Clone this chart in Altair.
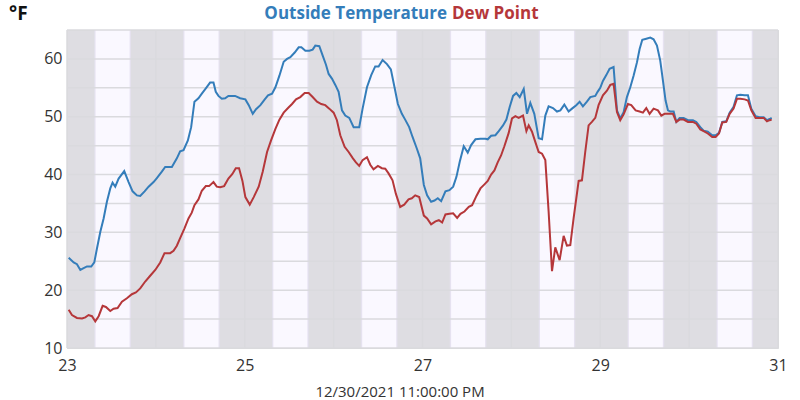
import altair as alt
import pandas as pd

# ---------------- data ----------------
title_temp = "Outside Temperature"
title_dew = "Dew Point"
unit_label = "°F"
footer_label = "12/30/2021 11:00:00 PM"

temp_day = [23.019, 23.075, 23.112, 23.150, 23.187, 23.225, 23.273, 23.307, 23.337, 23.375,
            23.412, 23.449, 23.487, 23.513, 23.543, 23.581, 23.644, 23.693, 23.738, 23.787,
            23.824, 23.873, 23.918, 23.974, 24.011, 24.067, 24.105, 24.180, 24.236, 24.273,
            24.311, 24.360, 24.397, 24.434, 24.479, 24.517, 24.562, 24.610, 24.648, 24.674,
            24.704, 24.742, 24.779, 24.816, 24.891, 24.948,
            25.007, 25.045, 25.090, 25.127, 25.176, 25.225, 25.262, 25.307, 25.345, 25.390,
            25.438, 25.476, 25.513, 25.562, 25.607, 25.637, 25.682, 25.727, 25.764, 25.794,
            25.839, 25.876, 25.914, 25.944, 25.981, 26.019, 26.056, 26.094, 26.131, 26.176,
            26.225, 26.288, 26.326, 26.375, 26.423, 26.468, 26.506, 26.551, 26.600, 26.644,
            26.685, 26.723, 26.768, 26.805, 26.850, 26.888, 26.936, 26.974,
            27.015, 27.052, 27.097, 27.135, 27.172, 27.210, 27.258, 27.303, 27.345, 27.382,
            27.419, 27.464, 27.509, 27.547, 27.596, 27.652, 27.708, 27.734, 27.772, 27.820,
            27.858, 27.906, 27.944, 27.981, 28.019, 28.056, 28.094, 28.139, 28.176, 28.213,
            28.258, 28.307, 28.345, 28.382, 28.419, 28.468, 28.513, 28.551, 28.596, 28.644,
            28.682, 28.730, 28.768, 28.805, 28.850, 28.888, 28.944, 28.970,
            29.000, 29.030, 29.068, 29.105, 29.150, 29.188, 29.225, 29.263, 29.300, 29.338,
            29.375, 29.413, 29.443, 29.473, 29.518, 29.563, 29.600, 29.638, 29.675, 29.705,
            29.735, 29.762, 29.788, 29.826, 29.856, 29.893, 29.938, 29.987, 30.043, 30.081,
            30.126, 30.163, 30.210, 30.260, 30.298, 30.336, 30.373, 30.418, 30.456, 30.500,
            30.538, 30.576, 30.625, 30.662, 30.700, 30.748, 30.794, 30.839, 30.876, 30.906,
            30.929]
temp_val = [25.6, 24.8, 24.5, 23.5, 23.8, 24.1, 24.1, 24.8, 27.2, 30.1,
            32.4, 35.3, 37.6, 38.6, 37.9, 39.3, 40.6, 38.7, 37.1, 36.4,
            36.3, 37.1, 37.9, 38.7, 39.4, 40.5, 41.3, 41.3, 42.8, 44.0,
            44.2, 45.9, 48.2, 52.6, 53.2, 54.0, 54.9, 55.9, 55.9, 54.3,
            53.6, 53.1, 53.2, 53.6, 53.6, 53.2,
            53.0, 52.0, 50.5, 51.3, 52.0, 53.0, 53.7, 54.0, 55.1, 57.1,
            59.5, 60.0, 60.3, 61.1, 62.0, 62.0, 61.4, 61.4, 61.6, 62.3,
            62.2, 60.6, 59.0, 57.4, 56.6, 55.5, 54.3, 51.1, 50.2, 49.8,
            48.2, 48.2, 51.4, 55.1, 57.2, 58.7, 58.7, 59.8, 59.1, 58.2,
            55.1, 52.2, 50.5, 49.5, 48.2, 46.5, 44.5, 42.8,
            38.2, 36.4, 35.3, 35.5, 35.9, 35.4, 37.1, 37.3, 37.9, 39.6,
            42.2, 44.9, 43.8, 45.1, 46.1, 46.2, 46.2, 46.1, 46.7, 46.8,
            47.5, 48.5, 49.5, 51.7, 53.6, 54.1, 53.4, 54.8, 50.5, 52.4,
            50.5, 46.3, 46.1, 50.2, 51.8, 51.5, 50.9, 51.1, 52.1, 50.9,
            51.4, 52.0, 52.6, 51.8, 52.6, 53.4, 53.6, 54.3,
            55.0, 56.2, 57.2, 58.3, 58.6, 51.1, 49.7, 50.8, 53.4, 55.1,
            57.1, 59.4, 61.7, 63.3, 63.5, 63.7, 63.4, 62.3, 59.7, 56.3,
            52.8, 51.1, 50.9, 50.9, 49.1, 49.8, 49.8, 49.4, 49.4, 49.1,
            48.2, 47.6, 47.4, 46.8, 46.8, 47.2, 49.1, 49.2, 50.7, 51.7,
            53.7, 53.8, 53.7, 53.7, 51.4, 50.1, 49.9, 49.9, 49.4, 49.6,
            49.8]

dew_day = [23.019, 23.056, 23.112, 23.169, 23.206, 23.243, 23.281, 23.318, 23.356, 23.401,
           23.438, 23.487, 23.524, 23.569, 23.618, 23.674, 23.730, 23.775, 23.824, 23.880,
           23.936, 23.993, 24.049, 24.097, 24.161, 24.199, 24.236, 24.273, 24.322, 24.367,
           24.404, 24.434, 24.479, 24.517, 24.562, 24.599, 24.648, 24.685, 24.723, 24.768,
           24.816, 24.861, 24.899, 24.936, 24.974,
           25.007, 25.056, 25.101, 25.157, 25.202, 25.251, 25.296, 25.345, 25.390, 25.438,
           25.487, 25.532, 25.577, 25.625, 25.674, 25.719, 25.764, 25.813, 25.861, 25.906,
           25.951, 26.000, 26.037, 26.075, 26.124, 26.169, 26.217, 26.251, 26.288, 26.326,
           26.375, 26.412, 26.449, 26.498, 26.543, 26.581, 26.618, 26.663, 26.700, 26.749,
           26.794, 26.843, 26.880, 26.918, 26.963,
           27.015, 27.052, 27.097, 27.146, 27.184, 27.221, 27.258, 27.303, 27.345, 27.390,
           27.427, 27.472, 27.521, 27.558, 27.607, 27.652, 27.697, 27.734, 27.772, 27.809,
           27.846, 27.884, 27.921, 27.970, 28.007, 28.045, 28.082, 28.131, 28.169, 28.195,
           28.232, 28.270, 28.307, 28.345, 28.382, 28.419, 28.457, 28.494, 28.543, 28.588,
           28.625, 28.663, 28.700, 28.757, 28.794, 28.831, 28.869, 28.906, 28.944, 28.981,
           29.030, 29.075, 29.113, 29.150, 29.188, 29.225, 29.263, 29.311, 29.349, 29.398,
           29.443, 29.480, 29.518, 29.555, 29.600, 29.649, 29.687, 29.724, 29.780, 29.818,
           29.856, 29.893, 29.938, 29.987, 30.043, 30.081, 30.126, 30.163, 30.210, 30.260,
           30.298, 30.336, 30.373, 30.418, 30.456, 30.500, 30.538, 30.576, 30.625, 30.662,
           30.700, 30.748, 30.794, 30.839, 30.876, 30.906, 30.929]
dew_val = [16.6, 15.7, 15.2, 15.1, 15.3, 15.7, 15.5, 14.6, 15.5, 17.3,
           17.1, 16.4, 16.8, 16.9, 18.0, 18.6, 19.3, 19.6, 20.3, 21.5,
           22.5, 23.5, 24.8, 26.4, 26.4, 26.8, 27.7, 29.0, 30.7, 32.4,
           33.4, 34.7, 35.7, 37.2, 38.0, 38.0, 38.7, 37.9, 37.8, 38.0,
           39.3, 40.1, 41.1, 41.1, 38.9,
           36.1, 34.8, 36.1, 37.9, 40.5, 43.9, 45.9, 47.9, 49.5, 50.7,
           51.5, 52.2, 53.0, 53.4, 54.1, 54.1, 53.4, 52.6, 52.2, 52.0,
           51.4, 50.7, 49.4, 46.8, 44.8, 43.9, 42.8, 42.1, 41.5, 42.5,
           43.0, 41.7, 40.9, 41.5, 41.1, 41.0, 40.2, 39.0, 36.7, 34.4,
           34.8, 35.7, 35.9, 36.4, 36.1,
           32.9, 32.4, 31.4, 31.9, 32.1, 31.7, 33.1, 33.2, 33.3, 32.5,
           33.2, 33.6, 34.4, 34.7, 36.3, 37.6, 38.3, 38.9, 40.0, 40.7,
           42.1, 43.3, 44.9, 47.2, 49.7, 50.1, 49.8, 50.2, 47.5, 48.5,
           47.4, 45.6, 43.9, 43.6, 42.5, 33.6, 23.3, 27.4, 25.2, 29.4,
           27.7, 27.8, 32.4, 38.9, 39.0, 43.9, 48.5, 49.1, 49.8, 52.0,
           53.7, 54.5, 55.5, 55.7, 50.8, 49.4, 50.4, 52.2, 52.0, 51.1,
           50.9, 50.7, 51.5, 50.5, 51.4, 51.1, 50.2, 50.5, 50.5, 50.5,
           49.1, 49.5, 49.5, 49.1, 49.1, 48.8, 47.8, 47.5, 47.1, 46.5,
           46.5, 47.1, 49.0, 49.1, 50.5, 51.4, 53.1, 53.1, 53.0, 52.8,
           51.1, 49.8, 49.8, 49.8, 49.2, 49.4, 49.5]

band_days = [23, 24, 25, 26, 27, 28, 29, 30]
sunrise = 0.322   # fraction of day
sunset = 0.704
x_ticks = [23, 24, 25, 26, 27, 28, 29, 30, 31]
y_ticks = [10, 15, 20, 25, 30, 35, 40, 45, 50, 55, 60, 65]

# ---------------- styling ----------------
FONT = "Open Sans"
BLUE = "#347dba"
RED = "#b5373a"
NIGHT = "#dedde2"
TWILIGHT = "#e8e4f3"
DAY = "#faf8ff"
GRID = "#dadade"

W, H = 711, 318
xs = alt.Scale(domain=[23, 31], nice=False, zero=False)
ys = alt.Scale(domain=[10, 65], nice=False, zero=False)

x_axis = alt.Axis(values=x_ticks, grid=False, ticks=False, domain=False, title=None,
                  labelExpr="datum.value % 2 == 1 ? datum.label : ''",
                  labelFont=FONT, labelFontSize=16, labelColor="#333333",
                  labelPadding=9, labelFlush=False)
y_axis = alt.Axis(values=y_ticks, grid=False, ticks=False, domain=False, title=None,
                  labelExpr="datum.value % 10 == 0 ? datum.label : ''",
                  labelFont=FONT, labelFontSize=16, labelColor="#333333",
                  labelPadding=5, labelFlush=False)

df = pd.concat([
    pd.DataFrame({"day": temp_day, "val": temp_val, "series": title_temp}),
    pd.DataFrame({"day": dew_day, "val": dew_val, "series": title_dew}),
])
bands = pd.DataFrame({"d": band_days})

band_base = alt.Chart(bands).transform_calculate(
    s1=f"datum.d + {sunrise} - 0.016", e1=f"datum.d + {sunset} + 0.016",
    s2=f"datum.d + {sunrise} - 0.008", e2=f"datum.d + {sunset} + 0.008",
    s3=f"datum.d + {sunrise}", e3=f"datum.d + {sunset}",
)
b1 = band_base.mark_rect(color="#e3e0ec").encode(
    x=alt.X("s1:Q", scale=xs, axis=x_axis), x2="e1:Q", y=alt.value(0), y2=alt.value(H))
b2 = band_base.mark_rect(color=TWILIGHT).encode(
    x=alt.X("s2:Q", scale=xs, axis=x_axis), x2="e2:Q", y=alt.value(0), y2=alt.value(H))
b3 = band_base.mark_rect(color=DAY).encode(
    x=alt.X("s3:Q", scale=xs, axis=x_axis), x2="e3:Q", y=alt.value(0), y2=alt.value(H))

gx = alt.Chart(pd.DataFrame({"g": x_ticks})).mark_rule(color=GRID, strokeWidth=1.5).encode(
    x=alt.X("g:Q", scale=xs, axis=x_axis))
gy = alt.Chart(pd.DataFrame({"g": y_ticks})).mark_rule(color=GRID, strokeWidth=1.5).encode(
    y=alt.Y("g:Q", scale=ys, axis=y_axis))

lines = alt.Chart(df).mark_line(strokeWidth=2, interpolate="linear").encode(
    x=alt.X("day:Q", scale=xs, axis=x_axis),
    y=alt.Y("val:Q", scale=ys, axis=y_axis),
    color=alt.Color("series:N", scale=alt.Scale(domain=[title_temp, title_dew], range=[BLUE, RED]),
                    legend=None),
    detail="series:N",
)

def label(txt, x, y, align, color, size, weight="normal"):
    return alt.Chart(pd.DataFrame({"t": [txt]})).mark_text(
        align=align, baseline="middle", font=FONT, fontSize=size, fontWeight=weight,
        color=color).encode(text="t:N", x=alt.value(x), y=alt.value(y))

t1 = label(title_temp, 380, -16, "right", BLUE, 17, "bold")
t2 = label(title_dew, 385, -16, "left", RED, 17, "bold")
t3 = label(unit_label, -58, -16, "left", "#111111", 19, "bold")
t4 = label(footer_label, 333, 362, "center", "#333333", 15)

chart = alt.layer(b1, b2, b3, gx, gy, lines, t1, t2, t3, t4).properties(
    width=W, height=H,
    padding={"left": 67, "top": 30, "right": 22, "bottom": 52},
    autosize=alt.AutoSizeParams(type="none"),
    background="white",
).configure_view(fill=NIGHT, stroke="#d9d9dc", strokeWidth=1)

chart.save("out.html", embed_options={"renderer": "svg", "actions": False})
